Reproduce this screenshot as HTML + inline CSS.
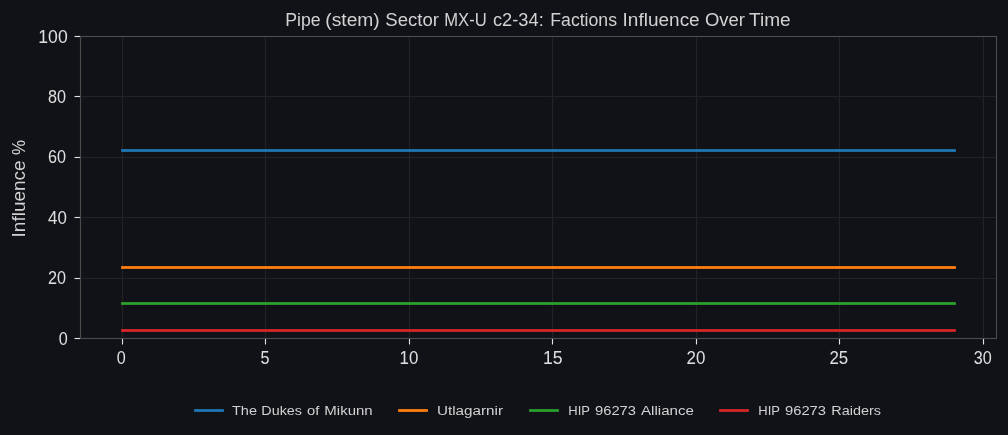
<!DOCTYPE html>
<html lang="en">
<head>
<meta charset="utf-8">
<title>Factions Influence Over Time</title>
<style>
html,body{margin:0;padding:0;background:#111217;}
body{width:1008px;height:435px;overflow:hidden;font-family:"Liberation Sans",sans-serif;}
svg{display:block;}
text{font-family:"Liberation Sans",sans-serif;fill:#e0e0e0;}
.grid line{stroke:#232326;stroke-width:1.11;}
.spine{fill:none;stroke:#4b4b4b;stroke-width:1.11;}
.tick line{stroke:#e0e0e0;stroke-width:1.11;}
.labels{opacity:0.999;}
text.w{fill:#d3d3d3;}
</style>
</head>
<body>
<svg width="1008" height="435" viewBox="0 0 1008 435">
<rect x="0" y="0" width="1008" height="435" fill="#111217"/>
<g class="grid">
<line x1="122.5" y1="36.5" x2="122.5" y2="338.5"/>
<line x1="265.5" y1="36.5" x2="265.5" y2="338.5"/>
<line x1="409.5" y1="36.5" x2="409.5" y2="338.5"/>
<line x1="552.5" y1="36.5" x2="552.5" y2="338.5"/>
<line x1="696.5" y1="36.5" x2="696.5" y2="338.5"/>
<line x1="839.5" y1="36.5" x2="839.5" y2="338.5"/>
<line x1="983.5" y1="36.5" x2="983.5" y2="338.5"/>
<line x1="80.5" y1="96.5" x2="996.5" y2="96.5"/>
<line x1="80.5" y1="157.5" x2="996.5" y2="157.5"/>
<line x1="80.5" y1="217.5" x2="996.5" y2="217.5"/>
<line x1="80.5" y1="278.5" x2="996.5" y2="278.5"/>
</g>
<g class="series">
<rect x="121.12" y="149.11" width="834.76" height="2.78" fill="#1f77b4"/>
<rect x="121.12" y="266.11" width="834.76" height="2.78" fill="#ff7f0e"/>
<rect x="121.12" y="302.11" width="834.76" height="2.78" fill="#2ca02c"/>
<rect x="121.12" y="329.11" width="834.76" height="2.78" fill="#d62728"/>
</g>
<rect class="spine" x="80.5" y="36.5" width="916" height="302"/>
<g class="tick">
<line x1="122.5" y1="339" x2="122.5" y2="344.5"/>
<line x1="265.5" y1="339" x2="265.5" y2="344.5"/>
<line x1="409.5" y1="339" x2="409.5" y2="344.5"/>
<line x1="552.5" y1="339" x2="552.5" y2="344.5"/>
<line x1="696.5" y1="339" x2="696.5" y2="344.5"/>
<line x1="839.5" y1="339" x2="839.5" y2="344.5"/>
<line x1="983.5" y1="339" x2="983.5" y2="344.5"/>
<line x1="74.5" y1="36.5" x2="80" y2="36.5"/>
<line x1="74.5" y1="96.5" x2="80" y2="96.5"/>
<line x1="74.5" y1="157.5" x2="80" y2="157.5"/>
<line x1="74.5" y1="217.5" x2="80" y2="217.5"/>
<line x1="74.5" y1="278.5" x2="80" y2="278.5"/>
<line x1="74.5" y1="338.5" x2="80" y2="338.5"/>
</g>
<g class="series">
<rect x="194.12" y="409.11" width="29.76" height="2.78" fill="#1f77b4"/>
<rect x="398.12" y="409.11" width="29.76" height="2.78" fill="#ff7f0e"/>
<rect x="529.12" y="409.11" width="29.76" height="2.78" fill="#2ca02c"/>
<rect x="719.12" y="409.11" width="29.76" height="2.78" fill="#d62728"/>
</g>
<g class="labels">
<text id="title_0" class="w" x="285.30" y="26.00" font-size="17.50" textLength="35.40" lengthAdjust="spacingAndGlyphs">Pipe</text>
<text id="title_1" class="w" x="325.30" y="26.00" font-size="17.50" textLength="54.40" lengthAdjust="spacingAndGlyphs">(stem)</text>
<text id="title_2" class="w" x="385.30" y="26.00" font-size="17.50" textLength="53.70" lengthAdjust="spacingAndGlyphs">Sector</text>
<text id="title_3" class="w" x="444.30" y="26.00" font-size="17.50" textLength="42.40" lengthAdjust="spacingAndGlyphs">MX-U</text>
<text id="title_4" class="w" x="493.00" y="26.00" font-size="17.50" textLength="50.70" lengthAdjust="spacingAndGlyphs">c2-34:</text>
<text id="title_5" class="w" x="550.30" y="26.00" font-size="17.50" textLength="66.70" lengthAdjust="spacingAndGlyphs">Factions</text>
<text id="title_6" class="w" x="622.60" y="26.00" font-size="17.50" textLength="77.10" lengthAdjust="spacingAndGlyphs">Influence</text>
<text id="title_7" class="w" x="705.00" y="26.00" font-size="17.50" textLength="40.00" lengthAdjust="spacingAndGlyphs">Over</text>
<text id="title_8" class="w" x="749.00" y="26.00" font-size="17.50" textLength="41.70" lengthAdjust="spacingAndGlyphs">Time</text>
<text id="ylabel_0" class="w" x="24.80" y="237.40" font-size="17.70" textLength="77.10" lengthAdjust="spacingAndGlyphs" transform="rotate(-90 24.80 237.40)">Influence</text>
<text id="ylabel_1" class="w" x="24.80" y="155.00" font-size="17.70" textLength="15.00" lengthAdjust="spacingAndGlyphs" transform="rotate(-90 24.80 155.00)">%</text>
<text id="y100" x="38.30" y="42.90" font-size="17.80" textLength="29.40" lengthAdjust="spacingAndGlyphs">100</text>
<text id="y80" x="48.10" y="102.50" font-size="17.80" textLength="18.00" lengthAdjust="spacingAndGlyphs">80</text>
<text id="y60" x="48.10" y="162.90" font-size="17.80" textLength="18.00" lengthAdjust="spacingAndGlyphs">60</text>
<text id="y40" x="48.10" y="224.10" font-size="17.80" textLength="18.80" lengthAdjust="spacingAndGlyphs">40</text>
<text id="y20" x="48.10" y="283.70" font-size="17.80" textLength="18.00" lengthAdjust="spacingAndGlyphs">20</text>
<text id="y0" x="58.70" y="344.90" font-size="17.80" textLength="9.00" lengthAdjust="spacingAndGlyphs">0</text>
<text id="x0" x="116.80" y="364.00" font-size="17.80" textLength="9.00" lengthAdjust="spacingAndGlyphs">0</text>
<text id="x5" x="260.40" y="364.00" font-size="17.80" textLength="9.00" lengthAdjust="spacingAndGlyphs">5</text>
<text id="x10" x="399.50" y="364.00" font-size="17.80" textLength="18.80" lengthAdjust="spacingAndGlyphs">10</text>
<text id="x15" x="543.00" y="364.00" font-size="17.80" textLength="19.60" lengthAdjust="spacingAndGlyphs">15</text>
<text id="x20" x="686.60" y="364.00" font-size="17.80" textLength="18.80" lengthAdjust="spacingAndGlyphs">20</text>
<text id="x25" x="829.40" y="364.00" font-size="17.80" textLength="18.80" lengthAdjust="spacingAndGlyphs">25</text>
<text id="x30" x="973.80" y="364.00" font-size="17.80" textLength="18.00" lengthAdjust="spacingAndGlyphs">30</text>
<text id="l1_0" class="w" x="232.00" y="415.00" font-size="13.70" textLength="25.00" lengthAdjust="spacingAndGlyphs">The</text>
<text id="l1_1" class="w" x="261.30" y="415.00" font-size="13.70" textLength="40.70" lengthAdjust="spacingAndGlyphs">Dukes</text>
<text id="l1_2" class="w" x="307.00" y="415.00" font-size="13.70" textLength="12.30" lengthAdjust="spacingAndGlyphs">of</text>
<text id="l1_3" class="w" x="324.30" y="415.00" font-size="13.70" textLength="48.40" lengthAdjust="spacingAndGlyphs">Mikunn</text>
<text id="l2" class="w" x="437.00" y="415.00" font-size="13.70" textLength="66.00" lengthAdjust="spacingAndGlyphs">Utlagarnir</text>
<text id="l3_0" class="w" x="568.30" y="415.00" font-size="13.70" textLength="21.70" lengthAdjust="spacingAndGlyphs">HIP</text>
<text id="l3_1" class="w" x="595.00" y="415.00" font-size="13.70" textLength="41.00" lengthAdjust="spacingAndGlyphs">96273</text>
<text id="l3_2" class="w" x="641.00" y="415.00" font-size="13.70" textLength="53.00" lengthAdjust="spacingAndGlyphs">Alliance</text>
<text id="l4_0" class="w" x="758.30" y="415.00" font-size="13.70" textLength="21.70" lengthAdjust="spacingAndGlyphs">HIP</text>
<text id="l4_1" class="w" x="785.00" y="415.00" font-size="13.70" textLength="41.00" lengthAdjust="spacingAndGlyphs">96273</text>
<text id="l4_2" class="w" x="831.30" y="415.00" font-size="13.70" textLength="49.70" lengthAdjust="spacingAndGlyphs">Raiders</text>
</g>
</svg>
</body>
</html>
